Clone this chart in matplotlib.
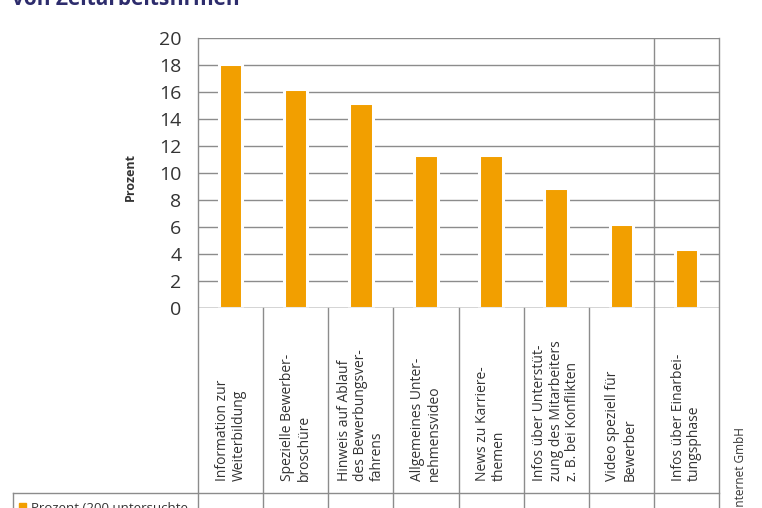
import matplotlib
matplotlib.use("Agg")
import matplotlib.pyplot as plt

plt.rcParams['font.family'] = ['Open Sans', 'DejaVu Sans']

categories = [
    "Information zur\nWeiterbildung",
    "Spezielle Bewerber-\nbroschüre",
    "Hinweis auf Ablauf\ndes Bewerbungsver-\nfahrens",
    "Allgemeines Unter-\nnehmensvideo",
    "News zu Karriere-\nthemen",
    "Infos über Unterstüt-\nzung des Mitarbeiters\nz. B. bei Konflikten",
    "Video speziell für\nBewerber",
    "Infos über Einarbei-\ntungsphase",
]
values = [18.1, 16.2, 15.2, 11.3, 11.3, 8.9, 6.2, 4.4]
yticks = list(range(0, 21, 2))

ORANGE = '#f29f00'
GRID = '#8c8c8c'
NAVY = '#2d2c6c'
TEXT = '#333333'

W, H = 762, 508
fig = plt.figure(figsize=(W / 100, H / 100), dpi=100)
ax = fig.add_axes([198 / W, 1 - 308 / H, (719 - 198) / W, (308 - 38) / H])

n = len(categories)
ax.set_xlim(-0.5, n - 0.5)
ax.set_ylim(0, 20)

# grid + frame
for y in yticks:
    ax.axhline(y, color=GRID, lw=1.0, zorder=1)
ax.axvline(n - 1.5, color=GRID, lw=1.0, zorder=1)
for s in ax.spines.values():
    s.set_visible(False)

# white edge gives the small gap between bars and grid lines
ax.bar(range(n), values, width=0.36, color=ORANGE, edgecolor='white',
       linewidth=2.2, zorder=3)
ax.axhline(0, color=GRID, lw=1.0, zorder=5)

ax.set_yticks(yticks)
ax.set_yticklabels([str(t) for t in yticks], fontsize=14, color=TEXT)
ax.tick_params(axis='y', length=0, pad=12)
ax.set_xticks([])

# table below the plot (lines in data coords, not clipped)
px_unit = 270 / 20
table_bottom = -(493 - 308) / px_unit
left_cell = (13 - 198) / ((719 - 198) / n) - 0.5
for i in range(n + 1):
    x = i - 0.5
    top = 20 if i in (0, n) else 0
    ax.plot([x, x], [top, -30], color=GRID, lw=1.0, clip_on=False, zorder=1)
ax.plot([left_cell, n - 0.5], [table_bottom, table_bottom], color=GRID, lw=1.0,
        clip_on=False)
ax.plot([left_cell, left_cell], [table_bottom, -30], color=GRID, lw=1.0,
        clip_on=False)

label_y = -(481 - 308) / px_unit
for i, lab in enumerate(categories):
    ax.text(i, label_y, lab, rotation=90, ha='center', va='bottom',
            multialignment='left', fontsize=10, color=TEXT, linespacing=1.15)

fig.text(130 / W, 1 - 177 / H, "Prozent", rotation=90, ha='center', va='center',
         fontsize=9, fontweight='bold', color=TEXT)

fig.text(12 / W, 1 - 5 / H, "von Zeitarbeitsfirmen", ha='left', va='baseline',
         fontsize=15, fontweight='bold', color=NAVY)

# legend row (partly cut off at the bottom edge)
fig.patches.append(plt.Rectangle((19 / W, 0), 7 / W, 5 / H, transform=fig.transFigure,
                                 color=ORANGE))
fig.text(31 / W, 1 - 502 / H, "Prozent (200 untersuchte", ha='left', va='top',
         fontsize=9.5, color=TEXT)

fig.text(741 / W, 1 - 427 / H, ": Internet GmbH", rotation=90, ha='center', va='top',
         fontsize=8.5, color=TEXT)

fig.savefig("out.png", dpi=100)
